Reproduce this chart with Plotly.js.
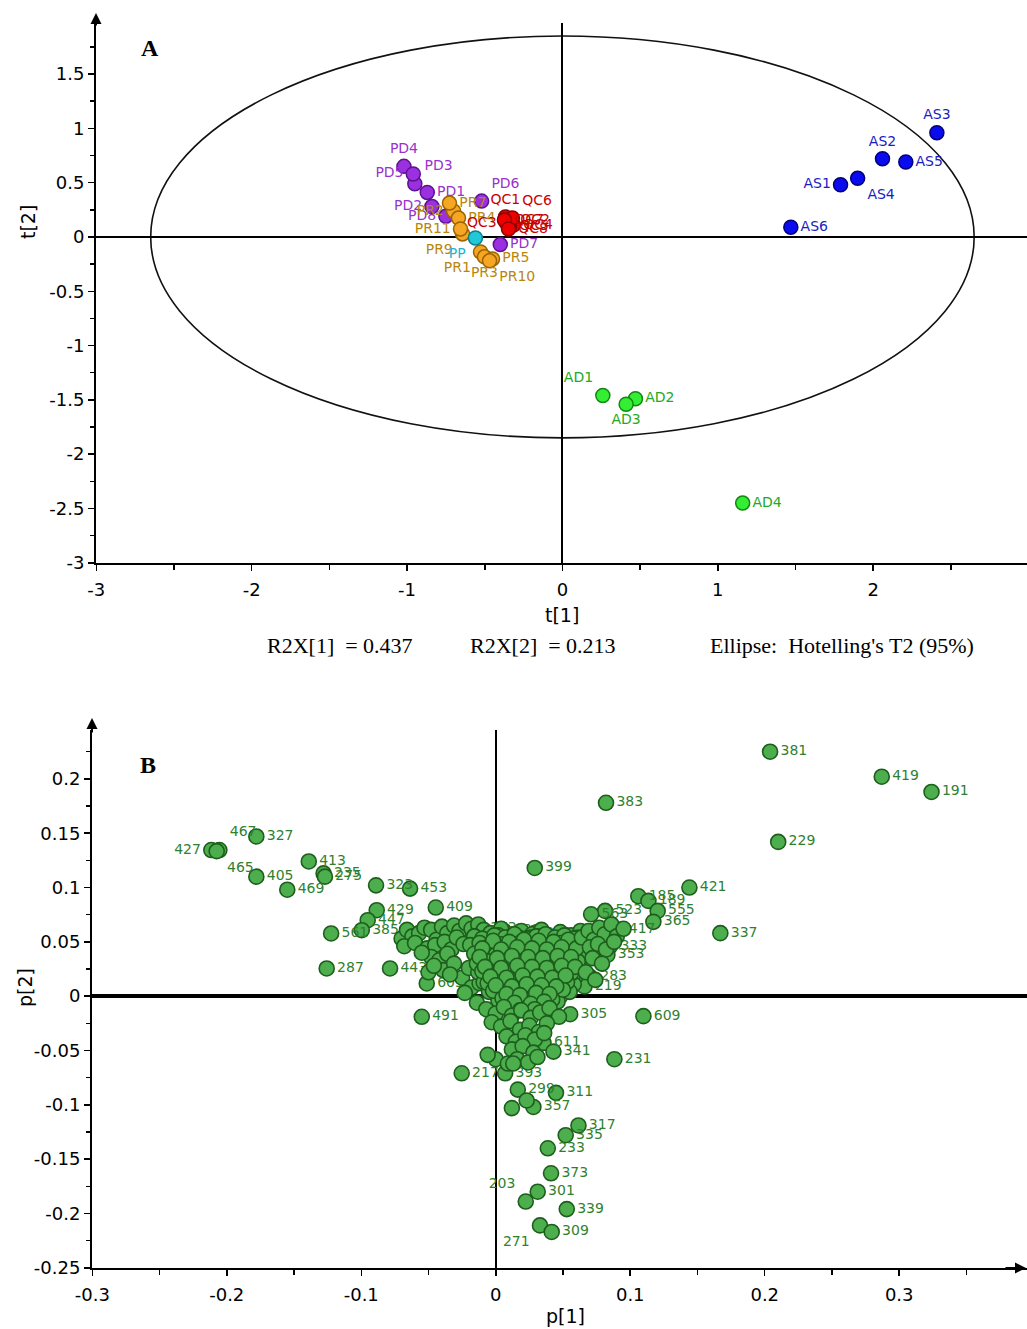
<!DOCTYPE html>
<html>
<head>
<meta charset="utf-8">
<script src="https://cdn.plot.ly/plotly-3.0.1.min.js"></script>
<style>
  html, body { margin: 0; padding: 0; background: #fff; }
  #chart { width: 1027px; height: 1329px; }
</style>
</head>
<body>
<div id="chart"></div>
<script>
// ---------- Panel A: PCA scores t[1] / t[2] ----------
const asNames = ['AS1', 'AS2', 'AS3', 'AS4', 'AS5', 'AS6'];
const asT1 = [1.79, 2.06, 2.41, 1.90, 2.21, 1.47];
const asT2 = [0.48, 0.72, 0.96, 0.54, 0.69, 0.09];

const adNames = ['AD1', 'AD2', 'AD3', 'AD4'];
const adT1 = [0.26, 0.47, 0.41, 1.16];
const adT2 = [-1.46, -1.49, -1.54, -2.45];

const pdNames = ['PD1', 'PD2', 'PD3', 'PD4', 'PD5', 'PD6', 'PD7', 'PD8'];
const pdT1 = [-0.87, -0.84, -0.95, -1.02, -0.96, -0.52, -0.40, -0.75];
const pdT2 = [0.41, 0.28, 0.49, 0.65, 0.58, 0.33, -0.07, 0.19];

const prNames = ['PR1', 'PR2', 'PR3', 'PR4', 'PR5', 'PR7', 'PR9', 'PR10', 'PR11'];
const prT1 = [-0.527, -0.701, -0.502, -0.669, -0.450, -0.727, -0.643, -0.469, -0.656];
const prT2 = [-0.138, 0.239, -0.183, 0.174, -0.202, 0.312, 0.028, -0.220, 0.073];

const ppNames = ['PP'];
const ppT1 = [-0.56];
const ppT2 = [-0.01];

const qcNames = ['QC1', 'QC2', 'QC3', 'QC4', 'QC5', 'QC6', 'QC7', 'QC8'];
const qcT1 = [-0.367, -0.334, -0.360, -0.315, -0.341, -0.322, -0.373, -0.347];
const qcT2 = [0.183, 0.156, 0.128, 0.110, 0.092, 0.174, 0.156, 0.073];

// Hotelling's T2 (95%) ellipse semi-axes
const ellipseT1 = 2.65;
const ellipseT2 = 1.85;

const r2x1 = 0.437;
const r2x2 = 0.213;

const aTickX = [-3, -2, -1, 0, 1, 2];
const aTickXText = ['-3', '-2', '-1', '0', '1', '2'];
const aTickY = [-3, -2.5, -2, -1.5, -1, -0.5, 0, 0.5, 1, 1.5];
const aTickYText = ['-3', '-2.5', '-2', '-1.5', '-1', '-0.5', '0', '0.5', '1', '1.5'];

// ---------- Panel B: loadings p[1] / p[2] ----------
const bIds = ['381','419','191','383','229','399','421','337','185','189','555','365','523','563','417',
  '609','231','305','611','341','311','299','357','317','335','233','373','301','203','339','271','309',
  '217','393','491','467','427','465','327','405','413','235','275','469','323','453','409','429','447',
  '385','561','287','443','603','173','193','361','333','353','283','219'];
const bP1 = [0.204, 0.287, 0.324, 0.082, 0.210, 0.029, 0.144, 0.167, 0.106, 0.1135, 0.1204, 0.1172, 0.0813, 0.0709, 0.0912,
  0.1098, 0.0882, 0.0553, 0.0355, 0.0429, 0.0448, 0.0164, 0.028, 0.0615, 0.052, 0.0387, 0.0411, 0.0312, 0.0223, 0.0528, 0.0329, 0.0416,
  -0.0253, 0.007, -0.055, -0.2055, -0.2115, -0.2075, -0.178, -0.178, -0.139, -0.128, -0.127, -0.155, -0.089, -0.0637, -0.0446, -0.0885, -0.0952,
  -0.0996, -0.1224, -0.1257, -0.0786, -0.0513, -0.012, 0.006, 0.029, 0.085, 0.083, 0.070, 0.066];
const bP2 = [0.225, 0.202, 0.188, 0.178, 0.142, 0.118, 0.100, 0.058, 0.092, 0.0877, 0.0785, 0.0684, 0.0785, 0.0754, 0.0614,
  -0.0184, -0.058, -0.0166, -0.043, -0.051, -0.089, -0.086, -0.102, -0.119, -0.128, -0.140, -0.163, -0.180, -0.189, -0.196, -0.211, -0.217,
  -0.071, -0.071, -0.019, 0.1345, 0.1345, 0.1335, 0.147, 0.110, 0.124, 0.113, 0.110, 0.098, 0.102, 0.099, 0.0816, 0.0791, 0.0699,
  0.0607, 0.0577, 0.0255, 0.0255, 0.0117, 0.062, 0.060, 0.058, 0.046, 0.038, 0.018, 0.009];

// unlabelled variables, grouped by region of the loading cloud
const leftArmP1 = [-0.070,-0.066,-0.062,-0.057,-0.053,-0.048,-0.044,-0.040,-0.036,-0.031,-0.027,-0.022,-0.018,-0.013,-0.009,
  -0.068,-0.060,-0.051,-0.045,-0.038,-0.033,-0.029,-0.024,-0.016,-0.048,-0.042,-0.036,-0.050,-0.039,-0.031,-0.025,-0.018,-0.023,-0.012,-0.055,-0.046,-0.034,-0.020];
const leftArmP2 = [0.053,0.061,0.055,0.058,0.063,0.061,0.052,0.064,0.058,0.065,0.060,0.067,0.062,0.066,0.061,
  0.046,0.049,0.044,0.047,0.050,0.043,0.054,0.048,0.055,0.036,0.033,0.039,0.022,0.024,0.030,0.017,0.008,0.003,0.012,0.040,0.028,0.020,0.026];

const coreP1 = [-0.004,0.004,0.011,0.019,0.027,0.034,0.041,0.048,0.056,0.063,
  -0.008,0.000,0.007,0.015,0.022,0.030,0.037,0.045,0.052,0.059,0.066,
  -0.012,-0.004,0.003,0.010,0.018,0.025,0.032,0.040,0.047,0.054,0.061,0.068,
  -0.010,-0.002,0.005,0.013,0.020,0.028,0.035,0.043,0.050,0.057,0.064,
  -0.013,-0.006,0.001,0.008,0.016,0.023,0.031,0.038,0.046,0.053,0.060,
  -0.009,-0.001,0.006,0.013,0.021,0.028,0.036,0.043,0.051,0.058,
  -0.005,0.003,0.010,0.018,0.025,0.033,0.040,0.048,0.055,
  0.002,0.009,0.016,0.024,0.031,0.039,0.046,
  0.001,0.014,0.026,0.039,0.051,0.008,0.020,0.033,0.045,0.057,0.005,0.017,0.030,0.042];
const coreP2 = [0.058,0.062,0.055,0.060,0.057,0.061,0.054,0.059,0.056,0.060,
  0.049,0.046,0.051,0.047,0.052,0.048,0.050,0.046,0.051,0.048,0.050,
  0.040,0.037,0.042,0.039,0.036,0.043,0.038,0.041,0.037,0.042,0.039,0.041,
  0.031,0.028,0.033,0.030,0.034,0.029,0.032,0.027,0.033,0.030,0.028,
  0.022,0.019,0.024,0.020,0.025,0.021,0.018,0.023,0.020,0.024,0.019,
  0.013,0.010,0.015,0.011,0.016,0.012,0.014,0.009,0.015,0.011,
  0.004,0.001,0.006,0.002,0.007,0.003,0.005,0.000,0.004,
  -0.004,-0.007,-0.002,-0.006,-0.003,-0.008,-0.005,
  0.053,0.044,0.054,0.045,0.044,0.035,0.027,0.045,0.026,0.034,0.016,0.008,0.025,0.016];

const innerP1 = [-0.006,0.002,0.009,0.017,0.024,0.031,0.038,0.046,0.053,0.061,
  -0.002,0.006,0.013,0.021,0.028,0.035,0.042,0.050,0.057,
  -0.009,-0.001,0.006,0.014,0.021,0.029,0.036,0.044,0.051,0.059,
  0.000,0.008,0.015,0.023,0.030,0.037,0.045,0.052,0.060,
  0.004,0.011,0.019,0.026,0.034,0.041,0.049,
  0.007,0.014,0.022,0.029,0.036,0.043,
  0.012,0.019,0.027,0.034];
const innerP2 = [0.052,0.056,0.049,0.054,0.050,0.055,0.047,0.053,0.049,0.054,
  0.043,0.040,0.045,0.041,0.046,0.042,0.044,0.040,0.045,
  0.035,0.033,0.037,0.034,0.031,0.036,0.033,0.035,0.031,0.036,
  0.026,0.023,0.028,0.024,0.027,0.022,0.025,0.029,0.023,
  0.017,0.014,0.019,0.015,0.018,0.012,0.017,
  0.008,0.005,0.009,0.004,0.010,0.006,
  -0.001,0.002,-0.003,0.001];

const denseP1 = [-0.016,-0.010,-0.001,0.007,0.014,0.023,0.030,0.037,0.044,0.051,0.058,
  -0.019,-0.012,-0.005,0.003,0.010,0.018,0.026,0.033,0.040,0.048,0.055,0.062,
  -0.016,-0.007,0.000,0.008,0.015,0.022,0.029,0.036,0.043,0.050,0.057,0.064,
  -0.014,-0.006,0.002,0.009,0.017,0.024,0.031,0.039,0.046,0.054,0.061,
  -0.010,-0.003,0.004,0.012,0.019,0.027,0.034,0.041,0.049,0.056,
  -0.006,0.002,0.009,0.017,0.024,0.032,0.039,0.046,0.053,
  -0.002,0.006,0.013,0.021,0.028,0.036,0.043,0.050,
  0.005,0.012,0.020,0.027,0.035,0.042];
const denseP2 = [0.055,0.053,0.056,0.054,0.057,0.053,0.055,0.057,0.054,0.056,0.053,
  0.047,0.049,0.046,0.048,0.047,0.049,0.046,0.048,0.047,0.049,0.046,0.045,
  0.039,0.041,0.038,0.040,0.042,0.039,0.041,0.038,0.040,0.039,0.041,0.036,
  0.030,0.032,0.030,0.033,0.031,0.032,0.030,0.031,0.033,0.031,0.032,
  0.023,0.021,0.022,0.023,0.021,0.023,0.022,0.021,0.022,0.021,
  0.012,0.014,0.012,0.013,0.014,0.012,0.013,0.012,0.013,
  0.005,0.004,0.006,0.004,0.005,0.006,0.004,0.006,
  -0.002,-0.004,-0.003,-0.002,-0.004,-0.003];

const packedP1 = [-0.002,0.010,0.021,0.032,0.043,0.054,
  -0.010,0.004,0.016,0.027,0.038,0.049,0.060,
  -0.012,0.001,0.012,0.024,0.035,0.046,0.056,
  -0.008,0.004,0.016,0.027,0.038,0.049,0.059,
  -0.004,0.008,0.020,0.031,0.042,0.052,
  0.000,0.012,0.023,0.034,0.045,
  0.008,0.018,0.030,0.040,
  0.014,0.026,0.036,
  0.018,0.029];
const packedP2 = [0.051,0.050,0.052,0.051,0.050,0.052,
  0.044,0.043,0.045,0.044,0.043,0.045,0.044,
  0.036,0.035,0.037,0.036,0.035,0.037,0.036,
  0.027,0.026,0.028,0.027,0.026,0.028,0.027,
  0.018,0.017,0.019,0.018,0.017,0.019,
  0.010,0.009,0.011,0.010,0.009,
  0.002,0.001,0.003,0.002,
  -0.006,-0.007,-0.005,
  -0.013,-0.012];

const rightArmP1 = [0.064,0.069,0.073,0.077,0.081,0.086,0.090,0.095,0.070,0.076,0.082,0.088,0.072,0.079,0.067,0.074];
const rightArmP2 = [0.054,0.060,0.052,0.063,0.057,0.066,0.055,0.062,0.045,0.048,0.043,0.050,0.035,0.030,0.022,0.015];

const tailP1 = [-0.014,-0.007,0.000,0.006,0.012,0.019,0.026,0.033,0.040,0.047,-0.003,0.004,0.011,0.018,0.025,0.032,0.038,
  0.008,0.015,0.022,0.029,0.036,0.012,0.020,0.028,0.016,0.024,0.031,0.000,0.009,-0.006,0.013,0.023,0.012];
const tailP2 = [-0.006,-0.012,-0.016,-0.010,-0.018,-0.013,-0.020,-0.015,-0.011,-0.019,-0.024,-0.028,-0.023,-0.031,-0.027,-0.033,-0.025,
  -0.037,-0.042,-0.036,-0.040,-0.034,-0.049,-0.046,-0.052,-0.058,-0.061,-0.056,-0.058,-0.062,-0.054,-0.062,-0.096,-0.103];

const bTickX = [-0.3, -0.2, -0.1, 0, 0.1, 0.2, 0.3];
const bTickXText = ['-0.3', '-0.2', '-0.1', '0', '0.1', '0.2', '0.3'];
const bTickY = [-0.25, -0.2, -0.15, -0.1, -0.05, 0, 0.05, 0.1, 0.15, 0.2];
const bTickYText = ['-0.25', '-0.2', '-0.15', '-0.1', '-0.05', '0', '0.05', '0.1', '0.15', '0.2'];

// ---------- styling ----------
const W = 1027, H = 1329;
const fx = p => p / W;          // pixel -> paper x
const fy = p => 1 - p / H;      // pixel -> paper y
const labelFamily = 'DejaVu Sans, Verdana, sans-serif';
const serif = 'Liberation Serif, Times New Roman, serif';

function scoreTrace(names, t1, t2, pos, fill, edge, textColor) {
  return {
    type: 'scatter', mode: 'markers+text', xaxis: 'x', yaxis: 'y',
    x: t1, y: t2, text: names, textposition: pos,
    textfont: { family: labelFamily, size: 14, color: textColor },
    marker: { size: 14, color: fill, line: { color: edge, width: 1.5 } },
    cliponaxis: false, hoverinfo: 'skip', showlegend: false
  };
}

const traces = [
  scoreTrace(asNames, asT1, asT2,
    ['middle left', 'top center', 'top center', 'bottom right', 'middle right', 'middle right'],
    '#0b0bf0', '#00007a', '#1c1cc4'),
  scoreTrace(adNames, adT1, adT2,
    ['top left', 'middle right', 'bottom center', 'middle right'],
    '#33ee33', '#118811', '#22aa22'),
  scoreTrace(pdNames, pdT1, pdT2,
    ['middle right', 'middle left', 'top right', 'top center', 'middle left', 'top right', 'middle right', 'middle left'],
    '#9b30e0', '#5e1190', '#9933cc'),
  scoreTrace(prNames, prT1, prT2,
    ['bottom left', 'middle left', 'bottom center', 'middle right', 'middle right', 'middle right', 'bottom left', 'bottom right', 'middle left'],
    '#f5a623', '#9c6400', '#b8860b'),
  scoreTrace(ppNames, ppT1, ppT2, ['bottom left'], '#22c8d8', '#0f7f8c', '#22b4d0'),
  scoreTrace(qcNames, qcT1, qcT2,
    ['top center', 'middle right', 'middle left', 'middle right', 'middle right', 'top right', 'middle right', 'middle right'],
    '#ee0000', '#8c0000', '#c80000')
];

const loadFill = '#4cae4c', loadEdge = '#1d5e1d', loadText = '#2f7f2f';
const bPos = bIds.map(id => ({ '427': 'middle left', '467': 'top right', '465': 'bottom right',
  '203': 'top left', '271': 'bottom left' }[id] || 'middle right'));

traces.push({
  type: 'scatter', mode: 'markers+text', xaxis: 'x2', yaxis: 'y2',
  x: bP1, y: bP2, text: bIds, textposition: bPos,
  textfont: { family: labelFamily, size: 14, color: loadText },
  marker: { size: 15, color: loadFill, line: { color: loadEdge, width: 1.6 } },
  cliponaxis: false, hoverinfo: 'skip', showlegend: false
});

[[leftArmP1, leftArmP2], [coreP1, coreP2], [innerP1, innerP2], [denseP1, denseP2], [packedP1, packedP2],
 [rightArmP1, rightArmP2], [tailP1, tailP2]].forEach(([p1, p2]) => {
  traces.push({
    type: 'scatter', mode: 'markers', xaxis: 'x2', yaxis: 'y2',
    x: p1, y: p2,
    marker: { size: 15, color: loadFill, line: { color: loadEdge, width: 1.6 } },
    cliponaxis: false, hoverinfo: 'skip', showlegend: false
  });
});

const tickFont = { family: labelFamily, size: 18, color: '#000' };
function axis(extra) {
  return Object.assign({
    showline: true, linecolor: '#000', linewidth: 2, mirror: false,
    ticks: 'outside', ticklen: 6, tickwidth: 1.5, tickcolor: '#000',
    showgrid: false, zeroline: true, zerolinecolor: '#000',
    tickfont: tickFont, fixedrange: true, tickmode: 'array'
  }, extra);
}
function minor(dtick, len) {
  return { tickmode: 'linear', tick0: 0, dtick: dtick, ticks: 'outside', ticklen: len, tickwidth: 1.5,
    tickcolor: '#000', showgrid: false };
}
function label(xp, yp, text, font, extra) {
  return Object.assign({ xref: 'paper', yref: 'paper', x: fx(xp), y: fy(yp), text: text, showarrow: false,
    xanchor: 'center', yanchor: 'middle', font: font }, extra || {});
}
function arrow(xp, yp, ax, ay) {
  return { xref: 'paper', yref: 'paper', x: fx(xp), y: fy(yp), ax: ax, ay: ay, showarrow: true, arrowhead: 2,
    arrowsize: 1.1, arrowwidth: 2, arrowcolor: '#000', text: '' };
}

const layout = {
  width: W, height: H,
  margin: { l: 0, r: 0, t: 0, b: 0 },
  paper_bgcolor: '#fff', plot_bgcolor: '#fff',
  showlegend: false,
  xaxis: axis({ domain: [fx(96), 1], range: [-3.002, 2.99], anchor: 'y',
    tickvals: aTickX, ticktext: aTickXText, ticklabelstandoff: 3,
    minor: minor(0.5, 5), zerolinewidth: 2 }),
  yaxis: axis({ domain: [fy(563), fy(23)], range: [-3.002, 1.97], anchor: 'x',
    tickvals: aTickY, ticktext: aTickYText,
    minor: minor(0.25, 4), zerolinewidth: 2.5 }),
  xaxis2: axis({ domain: [fx(92), 1], range: [-0.3002, 0.395], anchor: 'y2',
    tickvals: bTickX, ticktext: bTickXText, ticklabelstandoff: 3,
    minor: minor(0.05, 5), zerolinewidth: 2.5 }),
  yaxis2: axis({ domain: [fy(1268), fy(730)], range: [-0.2502, 0.245], anchor: 'x2',
    tickvals: bTickY, ticktext: bTickYText,
    minor: minor(0.025, 4), zerolinewidth: 4.5 }),
  shapes: [
    { type: 'circle', xref: 'x', yref: 'y', x0: -ellipseT1, x1: ellipseT1, y0: -ellipseT2, y1: ellipseT2,
      line: { color: '#111', width: 1.6 }, layer: 'below' }
  ],
  annotations: [
    arrow(96, 13, 0, 14),
    arrow(92, 718, 0, 16),
    arrow(1026, 1268, -22, 0),
    label(150, 48, '<b>A</b>', { family: serif, size: 24, color: '#000' }),
    label(148, 765, '<b>B</b>', { family: serif, size: 24, color: '#000' }),
    label(562, 615, 't[1]', { family: labelFamily, size: 19, color: '#000' }),
    label(28, 222, 't[2]', { family: labelFamily, size: 19, color: '#000' }, { textangle: -90 }),
    label(565, 1316, 'p[1]', { family: labelFamily, size: 19, color: '#000' }),
    label(25, 988, 'p[2]', { family: labelFamily, size: 19, color: '#000' }, { textangle: -90 }),
    label(340, 645, 'R2X[1]  = ' + r2x1.toFixed(3), { family: serif, size: 22, color: '#000' }),
    label(543, 645, 'R2X[2]  = ' + r2x2.toFixed(3), { family: serif, size: 22, color: '#000' }),
    label(842, 645, "Ellipse:  Hotelling's T2 (95%)", { family: serif, size: 22, color: '#000' })
  ]
};

Plotly.newPlot('chart', traces, layout, { staticPlot: true, displayModeBar: false });
</script>
</body>
</html>
